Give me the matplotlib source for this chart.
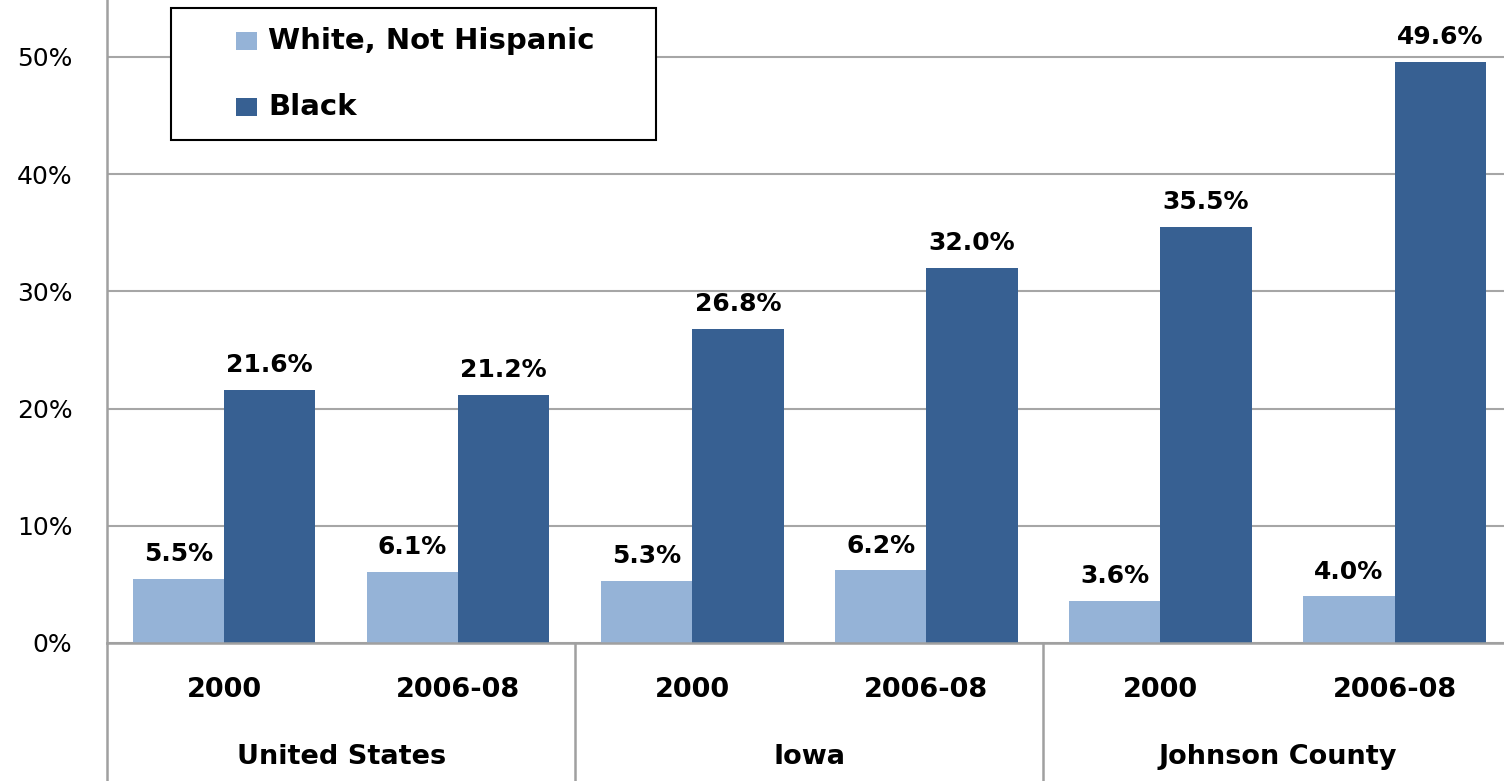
import numpy as np
import matplotlib.pyplot as plt
from matplotlib.patches import Rectangle

#Data
periods = ["2000", "2006-08", "2000", "2006-08", "2000", "2006-08"]
places = ["United States", "Iowa", "Johnson County"]
white = [5.5, 6.1, 5.3, 6.2, 3.6, 4.0]
black = [21.6, 21.2, 26.8, 32.0, 35.5, 49.6]
series = ["White, Not Hispanic", "Black"]
colors = ["#95B3D7", "#376092"]

W, H = 1504, 781
fig = plt.figure(figsize=(W/100, H/100), dpi=100)
plt.rcParams['font.family'] = ['DejaVu Sans']

# axes box in pixels: left 107, bottom 643 (from top), top 0
ax = fig.add_axes([107/W, (H-643)/H, (W-107)/W, 643/H])
x = np.arange(len(periods))
bw = 0.39
b1 = ax.bar(x - bw/2, white, bw, color=colors[0], zorder=2)
b2 = ax.bar(x + bw/2, black, bw, color=colors[1], zorder=2)

for bars, vals in [(b1, white), (b2, black)]:
    for r, v in zip(bars, vals):
        ax.annotate("%.1f%%" % v, (r.get_x() + r.get_width()/2, v),
                    xytext=(0, 9), textcoords="offset points",
                    ha="center", va="bottom", fontsize=18, fontweight="bold")

ax.set_ylim(0, 50 + 57/117.2*10)
ax.set_xlim(-0.5, -0.5 + (W-107)/234.1)
ax.set_yticks([0, 10, 20, 30, 40, 50])
ax.set_yticklabels(["0%", "10%", "20%", "30%", "40%", "50%"], fontsize=18)
ax.tick_params(axis="y", length=0, pad=25)
ax.set_xticks([])
ax.grid(axis="y", color="#A6A6A6", linewidth=1.5, zorder=0)
ax.set_axisbelow(True)
for s in ["top", "right"]:
    ax.spines[s].set_visible(False)
for s in ["left", "bottom"]:
    ax.spines[s].set_color("#A0A0A0")
    ax.spines[s].set_linewidth(1.8)

# two-level category labels
tr = ax.get_xaxis_transform()
for i, p in enumerate(periods):
    ax.text(i, -47/643, p, transform=tr, ha="center", va="center",
            fontsize=19.5, fontweight="bold")
for g, name in enumerate(places):
    ax.text(2*g + 0.5, -114/643, name, transform=tr, ha="center", va="center",
            fontsize=19.5, fontweight="bold")
for sep in [-0.5, 1.5, 3.5]:
    ax.plot([sep, sep], [0, -138/643], transform=tr, color="#A0A0A0",
            linewidth=1.8, clip_on=False)

# legend box
fig.patches.append(Rectangle((171/W, 1-140/H), 485/W, 132/H, transform=fig.transFigure,
                             facecolor="white", edgecolor="black", linewidth=1.5, zorder=5))
for k, (lab, c) in enumerate(zip(series, colors)):
    yc = 1 - (41 + 66*k)/H
    fig.patches.append(Rectangle((236/W, yc - 9/H), 21/W, 18/H, transform=fig.transFigure,
                                 facecolor=c, edgecolor="none", zorder=6))
    fig.text(268/W, yc, lab, ha="left", va="center", fontsize=21,
             fontweight="bold", zorder=6)

plt.savefig("out.png", dpi=100)
